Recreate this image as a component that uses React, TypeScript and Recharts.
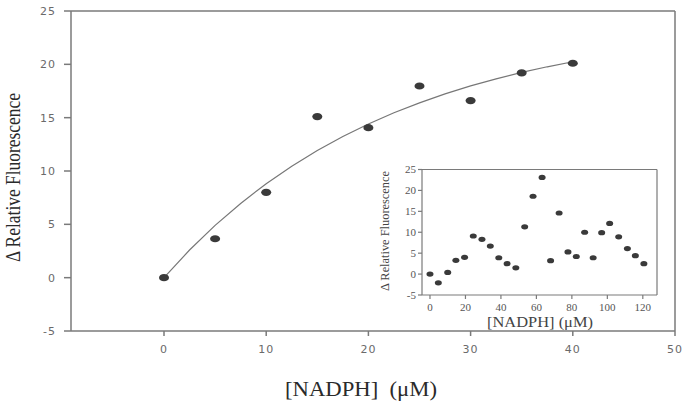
import React from 'react';
import { ScatterChart, Scatter, XAxis, YAxis, ReferenceLine } from 'recharts';

const mainX = [0, 5, 10, 15, 20, 25, 30, 35, 40];
const mainY = [0, 3.65, 8.0, 15.1, 14.06, 17.97, 16.6, 19.2, 20.1];
const fitX = [0, 2.5, 5, 7.5, 10, 12.5, 15, 17.5, 20, 22.5, 25, 27.5, 30, 32.5, 35, 37.5, 40];
const fitY = [0, 2.59, 4.9, 6.96, 8.81, 10.45, 11.93, 13.24, 14.41, 15.46, 16.39, 17.23, 17.98, 18.64, 19.24, 19.77, 20.24];
const insetX = [0, 4.7, 10, 14.6, 19.5, 24.4, 29.3, 34, 38.8, 43.5, 48.4, 53.4, 58.1, 63.2, 68, 72.8, 77.8, 82.5, 87.2, 92, 96.8, 101.3, 106.4, 111.3, 115.8, 120.6];
const insetY = [0, -2.1, 0.4, 3.3, 4.0, 9.1, 8.3, 6.7, 3.9, 2.5, 1.5, 11.3, 18.6, 23.1, 3.2, 14.6, 5.3, 4.2, 10.0, 3.9, 9.9, 12.1, 8.9, 6.1, 4.4, 2.5];

const mainXTicks = [0, 10, 20, 30, 40, 50];
const mainYTicks = [-5, 0, 5, 10, 15, 20, 25];
const insetXTicks = [0, 20, 40, 60, 80, 100, 120];
const insetYTicks = [-5, 0, 5, 10, 15, 20, 25];

const mainData = mainX.map((x, i) => ({ x, y: mainY[i] }));
const fitData = fitX.map((x, i) => ({ x, y: fitY[i] }));
const insetData = insetX.map((x, i) => ({ x, y: insetY[i] }));

const AXIS = '#7a7a7a';
const DOT = '#3a3a3a';

const BigDot = (p: any) => <ellipse cx={p.cx} cy={p.cy} rx={5} ry={3.6} fill={DOT} />;
const SmallDot = (p: any) => <ellipse cx={p.cx} cy={p.cy} rx={3.5} ry={2.6} fill={DOT} />;
const NoDot = () => null;

const mainTick = { fontFamily: 'DejaVu Sans', fontSize: 11, fill: '#6a6a6a', letterSpacing: 1 };
const insetTick = { fontFamily: 'Liberation Serif', fontSize: 11, fill: '#555' };

export default function App() {
  return (
    <div style={{ position: 'absolute', left: 0, top: 0, width: 685, height: 401, background: '#fff' }}>
      <div style={{ position: 'absolute', left: 0, top: 0 }}>
        <ScatterChart width={685} height={401} margin={{ top: 11, right: 10, left: 0, bottom: 0 }}>
          <XAxis
            type="number"
            dataKey="x"
            domain={[-9.1, 50]}
            ticks={mainXTicks}
            height={70}
            tickSize={5}
            tickMargin={9}
            tick={mainTick}
            stroke={AXIS}
            strokeWidth={1.5}
            allowDataOverflow
          />
          <YAxis
            type="number"
            dataKey="y"
            domain={[-5, 25]}
            ticks={mainYTicks}
            width={71}
            tickSize={7}
            tickMargin={8}
            tick={mainTick}
            stroke={AXIS}
            strokeWidth={1.5}
            allowDataOverflow
          />
          <ReferenceLine y={25} stroke={AXIS} strokeWidth={1.5} />
          <ReferenceLine x={50} stroke={AXIS} strokeWidth={1.5} />
          <Scatter data={fitData} line={{ stroke: '#777', strokeWidth: 1.2 }} lineType="joint" shape={NoDot} isAnimationActive={false} />
          <Scatter data={mainData} shape={BigDot} isAnimationActive={false} />
        </ScatterChart>
      </div>
      <div style={{ position: 'absolute', left: 0, top: 0 }}>
        <ScatterChart width={685} height={401} margin={{ top: 169.5, right: 28, left: 382, bottom: 86 }}>
          <XAxis
            type="number"
            dataKey="x"
            domain={[-4.5, 128]}
            ticks={insetXTicks}
            height={20}
            tickSize={4}
            tickMargin={4}
            tick={insetTick}
            stroke={AXIS}
            strokeWidth={1.2}
            allowDataOverflow
          />
          <YAxis
            type="number"
            dataKey="y"
            domain={[-5, 25]}
            ticks={insetYTicks}
            width={40}
            tickSize={4}
            tickMargin={2}
            tick={insetTick}
            stroke={AXIS}
            strokeWidth={1.2}
            allowDataOverflow
          />
          <ReferenceLine y={25} stroke={AXIS} strokeWidth={1.2} />
          <ReferenceLine x={128} stroke={AXIS} strokeWidth={1.2} />
          <Scatter data={insetData} shape={SmallDot} isAnimationActive={false} />
        </ScatterChart>
      </div>
      <svg width={685} height={401} style={{ position: 'absolute', left: 0, top: 0, pointerEvents: 'none' }}>
        <text x={361} y={396} textAnchor="middle" fontFamily="Liberation Serif" fontSize={21} fill="#2a2a2a" textLength={152} lengthAdjust="spacingAndGlyphs">{'[NADPH]\u00a0\u00a0(μM)'}</text>
        <text x={0} y={0} transform="translate(20,177.5) rotate(-90)" textAnchor="middle" fontFamily="Liberation Serif" fontSize={20} fill="#2a2a2a" textLength={169} lengthAdjust="spacingAndGlyphs">Δ Relative Fluorescence</text>
        <text x={540} y={327} textAnchor="middle" fontFamily="Liberation Serif" fontSize={14} fill="#444" textLength={106} lengthAdjust="spacingAndGlyphs">[NADPH] (μM)</text>
        <text x={0} y={0} transform="translate(389,231) rotate(-90)" textAnchor="middle" fontFamily="Liberation Serif" fontSize={12} fill="#444" textLength={120} lengthAdjust="spacingAndGlyphs">Δ Relative Fluorescence</text>
      </svg>
    </div>
  );
}
